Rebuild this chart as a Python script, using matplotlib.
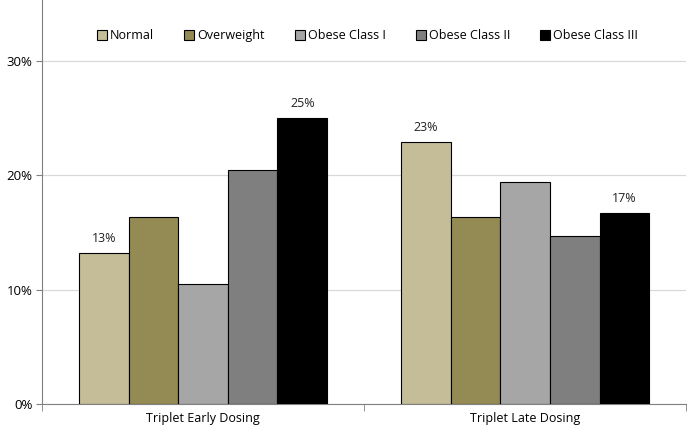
import numpy as np
import matplotlib.pyplot as plt
from matplotlib.ticker import PercentFormatter

plt.rcParams['font.family'] = ['Open Sans', 'DejaVu Sans']

groups = ['Triplet Early Dosing', 'Triplet Late Dosing']
series = ['Normal', 'Overweight', 'Obese Class I', 'Obese Class II', 'Obese Class III']
values = {
    'Normal': [0.132, 0.229],
    'Overweight': [0.164, 0.164],
    'Obese Class I': [0.105, 0.194],
    'Obese Class II': [0.205, 0.147],
    'Obese Class III': [0.250, 0.167],
}
colors = ['#C4BD97', '#948A54', '#A6A6A6', '#7F7F7F', '#000000']
# which bars get a value label: (series, group index)
labelled = [('Normal', 0), ('Obese Class III', 0), ('Normal', 1), ('Obese Class III', 1)]

fig = plt.figure(figsize=(6.89, 4.33), dpi=100)
ax = fig.add_axes([0.061, 0.067, 0.935, 0.933])

x = np.arange(len(groups))
w = 0.154
for i, s in enumerate(series):
    off = (i - 2) * w
    ax.bar(x + off, values[s], w, color=colors[i], edgecolor='black', linewidth=0.8,
           label=s, zorder=3)

for s, g in labelled:
    i = series.index(s)
    v = values[s][g]
    ax.text(x[g] + (i - 2) * w, v + 0.007, f'{v * 100:.0f}%', ha='center', va='bottom',
            fontsize=9, color='#222222')

ax.set_xlim(-0.5, 1.5)
ax.set_ylim(0, 0.3534)
ax.set_yticks([0, 0.1, 0.2, 0.3])
ax.yaxis.set_major_formatter(PercentFormatter(1.0, decimals=0))
ax.set_xticks(x)
ax.set_xticklabels(groups, fontsize=9)
ax.set_xticks([-0.5, 0.5, 1.5], minor=True)
ax.tick_params(axis='x', which='major', length=0, pad=6)
ax.tick_params(axis='x', which='minor', length=5, color='#808080')
ax.tick_params(axis='y', length=4, color='#808080', labelsize=9.5, pad=3)
ax.grid(axis='y', color='#D9D9D9', linewidth=0.9, zorder=0)

for side in ['top', 'right']:
    ax.spines[side].set_visible(False)
ax.spines['left'].set_color('#808080')
ax.spines['bottom'].set_color('#808080')

ax.legend(loc='upper center', bbox_to_anchor=(0.505, 0.955), ncol=5, frameon=False,
          fontsize=9, handlelength=0.8, handleheight=0.8, handletextpad=0.25,
          columnspacing=2.4)

plt.savefig('out.png', dpi=100)
